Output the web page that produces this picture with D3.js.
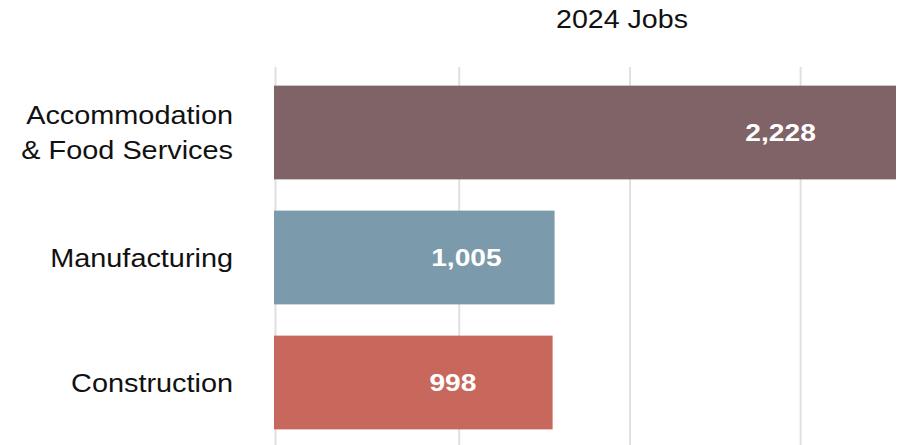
<!DOCTYPE html>
<html>
<head>
<meta charset="utf-8">
<script src="https://cdn.jsdelivr.net/npm/d3@7"></script>
<style>
  body { margin: 0; background: #fff; }
  text { font-family: "Liberation Sans", Arial, sans-serif; }
</style>
</head>
<body>
<div id="chart"></div>
<script>
// data
const categories = [["Accommodation", "& Food Services"], ["Manufacturing"], ["Construction"]];
const jobs = [2228, 1005, 998];
const barColors = ["#7f6367", "#7b9aab", "#c8685d"];
const gridValues = [0, 658, 1270, 1881];
const title = "2024 Jobs";

const width = 900;
const height = 445;

var svg = d3.select("#chart")
    .append("svg")
    .attr("width", width)
    .attr("height", height);

//x and y scales
var x = d3.scaleLinear()
    .domain([0, d3.max(jobs)])
    .range([274, 896]);

var y = d3.scaleBand()
    .domain(d3.range(jobs.length))
    .range([70, 445])
    .paddingInner(0.25)
    .paddingOuter(0.125);

// gridlines
svg.append("g")
    .selectAll("line")
    .data(gridValues)
    .enter().append("line")
    .attr("x1", function(d){ return x(d) + 1.5; })
    .attr("x2", function(d){ return x(d) + 1.5; })
    .attr("y1", 67)
    .attr("y2", height)
    .attr("stroke", "#e0e0e0")
    .attr("stroke-width", 2);

// bars
svg.append("g")
    .selectAll("rect")
    .data(jobs)
    .enter().append("rect")
    .attr("x", x(0))
    .attr("y", function(d, i){ return y(i); })
    .attr("width", function(d){ return x(d) - x(0); })
    .attr("height", y.bandwidth())
    .attr("fill", function(d, i){ return barColors[i]; });

// value labels, inside the bar
svg.append("g")
    .selectAll("text")
    .data(jobs)
    .enter().append("text")
    .attr("transform", function(d, i){
        var lx = 0.92 * x(d) - 79;
        return "translate(" + lx + "," + (y(i) + y.bandwidth()/2) + ") scale(1.15,1)";
    })
    .attr("text-anchor", "start")
    .attr("dy", "0.36em")
    .attr("fill", "#fff")
    .attr("font-weight", "bold")
    .attr("font-size", 24.5)
    .text(function(d){ return d3.format(",")(d); });

// category labels
var labels = svg.append("g")
    .selectAll("text")
    .data(categories)
    .enter().append("text")
    .attr("transform", function(d, i){
        return "translate(233," + (y(i) + y.bandwidth()/2) + ") scale(1.11,1)";
    })
    .attr("text-anchor", "end")
    .attr("font-size", 26)
    .attr("fill", "#111");

labels.selectAll("tspan")
    .data(function(d){ return d; })
    .enter().append("tspan")
    .attr("x", 0)
    .attr("y", function(d, j, nodes){
        var n = nodes.length;
        return (j - (n - 1) / 2) * 35;
    })
    .attr("dy", "0.36em")
    .text(function(d){ return d; });

// title
svg.append("text")
    .attr("transform", "translate(622,28) scale(1.1,1)")
    .attr("text-anchor", "middle")
    .attr("font-size", 26)
    .attr("fill", "#111")
    .text(title);
</script>
</body>
</html>
